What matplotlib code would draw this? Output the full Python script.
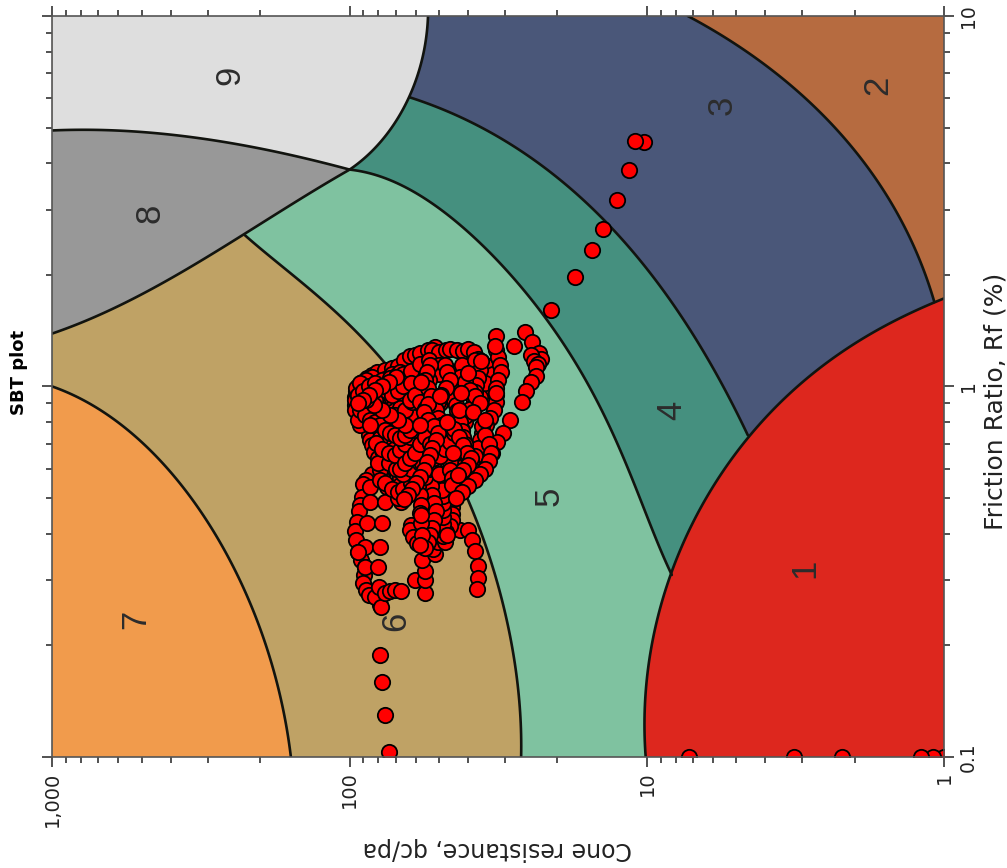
import numpy as np
import matplotlib
matplotlib.use("Agg")
import matplotlib.pyplot as plt
from matplotlib.ticker import FixedLocator, FixedFormatter, NullFormatter

# ---- zone boundaries (qc, Rf) ----
b76_qc = [1000, 691, 469, 319, 234, 185, 169, 157.6]
b76_rf = [1.0, .864, .674, .464, .30, .182, .142, .1]
b86_qc = [1000, 691, 469, 319, 225, 159, 100]
b86_rf = [1.39, 1.61, 1.82, 2.12, 2.56, 3.18, 3.85]
b98_qc = [1000, 480, 247, 147, 100]
b98_rf = [4.91, 4.85, 4.53, 4.16, 3.85]
b934_qc = [100, 75, 62.7, 57.1, 54.5]
b934_rf = [3.85, 4.82, 6.03, 7.75, 10]
b56_qc = [225, 147, 100, 71.5, 53.8, 40.3, 34.5, 29.6, 27.4, 26.5]
b56_rf = [2.56, 1.935, 1.436, 1.127, .763, .502, .368, .234, .161, .1]
b45_qc = [100, 67.9, 46.1, 31.3, 26.8, 21.2, 18.2, 14.4, 12.3, 9.05, 8.25]
b45_rf = [3.85, 3.49, 2.90, 2.19, 1.82, 1.51, 1.199, .90, .673, .362, .31]
b34_qc = [62.7, 36.5, 26.8, 19.2, 14.08, 9.78, 7.34, 5.69, 4.58]
b34_rf = [6.03, 4.98, 4.39, 3.56, 2.84, 2.03, 1.445, 1.059, .739]
b1_qc = [10.1, 9.94, 9.4, 8.25, 6.64, 4.58, 3.06, 1.93, 1.08, 1.0]
b1_rf = [.1, .161, .234, .31, .464, .731, 1.01, 1.33, 1.69, 1.73]
b2_qc = [7.29, 4.51, 3.06, 2.37, 1.78, 1.41, 1.18, 1.08]
b2_rf = [10, 7.83, 6.19, 5.13, 3.83, 2.81, 2.10, 1.69]

zone_labels = ["1", "2", "3", "4", "5", "6", "7", "8", "9"]
zone_label_qc = [2.94, 1.68, 5.6, 8.26, 21.3, 70.2, 525, 470, 252]
zone_label_rf = [.323, 6.48, 5.75, .86, .505, .232, .235, 2.94, 6.9]

# ---- CPT soundings (qc, Rf) ----
surface_qc = [1.0, 1.09, 1.2, 2.2, 3.2, 7.2]
surface_rf = [.1, .1, .1, .1, .1, .1]
trail_qc = [74, 76.3, 77.7, 79, 79]
trail_rf = [.103, .13, .159, .189, .257]
upper_qc = [10.2, 10.98, 11.5, 12.6, 14.1, 15.3, 17.5, 21.0]
upper_rf = [4.56, 4.59, 3.84, 3.18, 2.66, 2.33, 1.98, 1.61]
arc_qc = [25.8, 27.9, 24.4, 23, 22.7, 24.5, 24.0, 23.2, 23.7, 23.7, 24.6, 25.6, 26.4, 28.8, 30.5, 31.9, 33.3, 34.7, 38, 42.3]
arc_rf = [1.40, 1.287, 1.32, 1.23, 1.19, 1.22, 1.17, 1.15, 1.13, 1.07, 1.03, .97, .91, .81, .75, .71, .66, .63, .565, .55]
left_qc = [85.6, 86.3, 86.3, 86.3, 85.6, 84.3, 83, 80.5, 79.3, 80.5, 84.3, 88.3, 90, 91, 92.5, 93.2, 94.7, 96.2, 95.4, 93.9, 91.8, 89, 89.7, 90.3, 88.3, 86.3, 82.4, 78.6]
left_rf = [.812, .787, .763, .74, .717, .695, .667, .64, .62, .595, .58, .559, .545, .503, .479, .461, .431, .407, .385, .358, .34, .326, .31, .295, .282, .273, .271, .254]
col2_qc = [85.6, 85.6, 87.6, 89, 93.9, 89, 75, 76.3, 77.8, 79, 80.5, 79.7, 76.3, 73.4, 70.6, 67.4]
col2_rf = [.535, .488, .428, .368, .358, .326, .535, .488, .428, .368, .326, .288, .277, .28, .282, .28]
low_qc = [60.5, 56, 56, 56, 57, 51.8, 62, 62.8, 61.3, 59.3, 56, 52.6, 50.5]
low_rf = [.30, .277, .30, .318, .34, .354, .423, .41, .392, .378, .37, .365, .38]
tail_qc = [42.7, 40, 38.9, 38, 37.1, 37.1, 37.4]
tail_rf = [.41, .41, .385, .36, .328, .305, .284]
l1_qc = [96, 96.2, 95.4, 94, 91, 87.6, 84.3, 80.8, 76.3, 72.3, 69, 65.5, 62.8, 60.5, 58.2, 54.7, 51.8]
l1_rf = [.891, .935, .97, 1.0, 1.03, 1.055, 1.074, 1.095, 1.108, 1.12, 1.135, 1.18, 1.205, 1.216, 1.23, 1.255, 1.28]
l2_qc = [96, 91.7, 85.6, 80.8, 75.5, 72.3, 76.3, 80.8, 85.6, 89.7, 94, 88.3, 83.7, 78, 73.4, 69.5, 72.3, 76.3, 80.8, 84.3, 88.3, 92.5, 93.9, 89, 82.4]
l2_rf = [.864, .838, .853, .891, .929, .966, .99, .966, .93, .907, .94, .978, 1.01, 1.041, 1.055, 1.074, 1.01, .948, .907, .864, .82, .787, .812, .853, .919]
l3_qc = [67.9, 65.3, 63.8, 65.3, 67.9, 70.6, 73.4, 76.3, 79.3, 81.7, 77.7, 74, 70.6, 67.9, 65.3, 62.8, 60.5, 58.2, 60.5, 62.8, 65.3, 61.8, 59, 56.4, 57.7]
l3_rf = [1.095, 1.041, .978, .919, .875, .838, .797, .763, .727, .704, .678, .66, .653, .674, .7, .73, .763, .787, .812, .838, .864, .907, .948, .99, 1.03]
l4_qc = [92.5, 89, 85.6, 82.4, 79.3, 76.3, 73.4, 70.6, 67.9, 65.3, 62.8, 65.3, 69, 73.4, 78, 83, 88.3, 93]
l4_rf = [.864, .838, .812, .8, .787, .763, .75, .74, .725, .74, .763, .787, .812, .838, .864, .891, .919, .948]
l5_qc = [94, 90, 86, 82, 78, 75, 72, 69, 66, 63, 66, 70, 74, 78, 82, 86, 90, 94]
l5_rf = [.95, .97, 1.0, 1.02, 1.0, .97, .95, .97, 1.0, 1.06, 1.08, 1.06, 1.03, 1.0, .98, .95, .92, .90]
n1_qc = [95, 91, 87, 83, 79, 75, 71, 67, 64, 61, 64, 68, 72, 76, 80, 84, 88, 92, 96]
n1_rf = [.99, 1.0, .96, .93, .91, .89, .87, .90, .93, .97, 1.0, 1.04, 1.08, 1.05, 1.03, 1.06, 1.04, 1.02, .92]
n2_qc = [80, 76, 72, 68, 64, 60, 57, 54, 51, 48, 51, 54, 57, 60, 64, 68, 72, 76]
n2_rf = [.84, .81, .78, .80, .83, .86, .83, .79, .76, .73, .70, .68, .70, .72, .70, .68, .70, .73]
n3_qc = [62, 58, 54, 50, 46, 42, 38, 35, 33, 35, 38, 42, 46, 50, 54, 58, 62]
n3_rf = [1.10, 1.15, 1.18, 1.14, 1.10, 1.14, 1.18, 1.14, 1.08, 1.02, 1.00, .98, 1.04, 1.08, 1.04, 1.00, 1.02]
n4_qc = [74, 70, 66, 62, 58, 54, 50, 46, 43, 47, 52, 57, 62, 67, 72]
n4_rf = [.62, .60, .58, .60, .62, .60, .58, .60, .63, .66, .64, .62, .66, .69, .66]
m1_qc = [52.9, 50.2, 47.5, 46.1, 43.7, 41.7, 40, 38.3, 37.1, 36.2, 34.5, 33.5, 34.2, 35.5, 36.5, 38, 38.9]
m1_rf = [1.255, 1.24, 1.255, 1.265, 1.255, 1.248, 1.265, 1.24, 1.19, 1.17, 1.108, 1.055, 1.0, .978, .935, .885, .853]
m2_qc = [36.5, 37.1, 37.7, 38, 38.3, 38.9, 40, 41, 42, 42.7, 43.7, 45, 46.1, 46.1, 45.4, 45.4]
m2_rf = [1.108, 1.055, 1.01, .966, .919, .875, .838, .8, .763, .717, .683, .653, .626, .595, .565, .542]
m3_qc = [32.1, 31.8, 31.3, 31, 31.6, 32.1, 32.1, 32.3, 32.8, 33.8, 34.9, 35.8, 36.5, 37.1, 38, 38.9, 39.5]
m3_rf = [1.255, 1.2, 1.143, 1.095, 1.041, .99, .948, .908, .864, .824, .787, .75, .717, .683, .649, .618, .595]
m4_qc = [47.9, 46.9, 46.1, 47.5, 49.4, 50.6, 51.4, 50.6, 49.4, 46.9, 44.6, 43, 41.7, 40.2, 39, 40, 41.7, 43.3]
m4_rf = [1.143, 1.095, 1.041, .99, .948, .908, .864, .824, .787, .8, .77, .73, .695, .66, .64, .614, .595, .577]
m5_qc = [53.8, 55.1, 56, 54.7, 53.4, 54.7, 56.4, 54.7, 52.2, 50.6, 51.4, 52.9, 53.8, 55.1, 56.4, 58.2, 60, 61.8, 63.8, 65.8]
m5_rf = [1.143, 1.095, 1.041, .99, .941, .897, .853, .812, .782, .75, .717, .683, .653, .624, .595, .57, .55, .53, .51, .497]
m6_qc = [67.9, 65.3, 62.8, 60.5, 58.2, 56, 53.8, 51.8, 49.8, 47.9, 46.1, 44.4, 42.7, 41, 39.5]
m6_rf = [.60, .62, .64, .66, .70, .73, .70, .67, .65, .68, .71, .75, .79, .83, .87]
m7_qc = [62.8, 60.5, 58.2, 56, 53.8, 51.8, 49.8, 47.9, 46.1, 44.4, 42.7, 41, 39.5, 38, 36.5]
m7_rf = [.92, .95, .91, .87, .84, .87, .90, .94, .98, 1.02, 1.06, 1.03, .98, .94, .90]
m8_qc = [44.4, 44, 43.5, 43, 42.5, 42, 41.5, 41, 40.5, 40, 39.5]
m8_rf = [.92, .89, .86, .83, .80, .76, .73, .70, .67, .64, .61]
m9_qc = [36, 35, 34, 33.5, 34, 35, 36.5, 38, 40, 42, 44]
m9_rf = [.78, .74, .70, .66, .63, .60, .58, .56, .54, .52, .50]
m10_qc = [79, 76, 72, 69, 66, 62, 60, 58, 56]
m10_rf = [.56, .55, .53, .52, .53, .55, .58, .60, .57]
c400_qc = [72.3, 70.6, 69, 67.9, 66.9, 66.9, 67.9, 67.9, 67.9, 67.4, 69]
c400_rf = [.763, .725, .688, .657, .626, .595, .565, .542, .515, .488, .5]
c385_qc = [79.3, 77.7, 76.3, 76.3, 77, 78, 79.3, 80.5]
c385_rf = [.704, .674, .645, .61, .585, .565, .595, .62]
c418_qc = [62.8, 61, 59, 58.2, 58.2, 58.7, 58.2, 57.7, 58.2, 57.7, 57, 58.2]
c418_rf = [.674, .645, .62, .595, .565, .54, .51, .479, .455, .428, .397, .373]
c433_qc = [51.8, 53, 53.4, 53, 52.2, 51.4, 52.2, 53, 53.8, 54.7, 56]
c433_rf = [.595, .565, .54, .51, .485, .46, .436, .415, .397, .38, .366]
c452_qc = [45.4, 45.4, 45.4, 45.4, 45.4, 45.4, 45.4, 46.1, 47.3, 47.3, 47.9, 48.6, 48.6, 48.6, 48.6, 48.6, 48.6, 48.6, 49]
c452_rf = [.559, .535, .512, .494, .473, .453, .436, .42, .405, .393, .381, .396, .41, .425, .445, .464, .485, .505, .525]
top_qc = [36.2, 40, 42.3, 32.1, 43, 38.6, 35, 58.2, 46.9, 45, 49.8, 57.7, 85.6, 57.7, 46.9]
top_rf = [1.17, 1.09, .958, .958, .864, .853, .812, .787, .8, .66, .944, 1.03, .787, .45, .397]
peak_qc = [32.1, 32.5]
peak_rf = [1.37, 1.29]

chains = [(surface_qc, surface_rf), (trail_qc, trail_rf), (upper_qc, upper_rf), (arc_qc, arc_rf),
          (left_qc, left_rf), (col2_qc, col2_rf), (low_qc, low_rf), (tail_qc, tail_rf),
          (c452_qc, c452_rf), (c433_qc, c433_rf), (c418_qc, c418_rf), (c385_qc, c385_rf),
          (c400_qc, c400_rf), (m10_qc, m10_rf), (n4_qc, n4_rf), (l1_qc, l1_rf), (n1_qc, n1_rf),
          (l2_qc, l2_rf), (n2_qc, n2_rf), (l3_qc, l3_rf), (l4_qc, l4_rf), (l5_qc, l5_rf),
          (m1_qc, m1_rf), (n3_qc, n3_rf), (m2_qc, m2_rf), (m3_qc, m3_rf), (m6_qc, m6_rf),
          (m7_qc, m7_rf), (m8_qc, m8_rf), (m9_qc, m9_rf), (m4_qc, m4_rf), (m5_qc, m5_rf),
          (peak_qc, peak_rf), (top_qc, top_rf)]

zone_colors = {1: "#DD271E", 2: "#B66B40", 3: "#4A5779", 4: "#45907F", 5: "#7FC2A0",
               6: "#BFA265", 7: "#F19B4C", 8: "#989898", 9: "#DEDEDE"}


def smooth(qc, rf, deg=4, n=120):
    """Fair curve through a traced boundary, in log space; the ends stay on their junctions."""
    x, y = np.log10(qc), np.log10(rf)
    t = np.r_[0, np.cumsum(np.hypot(np.diff(x), np.diff(y)))]
    t = t / t[-1]
    w = np.ones_like(t)
    w[[0, -1]] = 30
    tt = np.linspace(0, 1, n)
    return (10 ** np.polyval(np.polyfit(t, x, deg, w=w), tt),
            10 ** np.polyval(np.polyfit(t, y, deg, w=w), tt))


W, H = 1007, 868
fig = plt.figure(figsize=(W / 100, H / 100), dpi=100, facecolor="white")
ax = fig.add_axes([52.3 / W, (H - 757) / H, 892 / W, 741 / H])
ax.set_xscale("log")
ax.set_yscale("log")
ax.set_xlim(1000, 1)
ax.set_ylim(0.1, 10)
ax.set_facecolor(zone_colors[2])

QMAX, QMIN, RMIN, RMAX = 1000, 1, .1, 10
s2 = smooth(b2_qc, b2_rf, 3)
s34 = smooth(b34_qc, b34_rf, 4)
s45 = smooth(b45_qc, b45_rf, 5)
s56 = smooth(b56_qc, b56_rf, 5)
s76 = smooth(b76_qc, b76_rf, 4)
s86 = smooth(b86_qc, b86_rf, 3)
s98 = smooth(b98_qc, b98_rf, 3)
s934 = smooth(b934_qc, b934_rf, 3)
s1 = smooth(b1_qc, b1_rf, 5)


def fill(qc, rf, extra_qc, extra_rf, z):
    ax.fill(np.r_[qc, extra_qc], np.r_[rf, extra_rf], color=zone_colors[z], lw=0, zorder=1)


fill(*s2, [b2_qc[-1], QMAX, QMAX], [RMIN, RMIN, RMAX], 3)
fill(*s34, [b34_qc[-1], QMAX, QMAX, b34_qc[0]], [RMIN, RMIN, RMAX, RMAX], 4)
fill(*s45, [b45_qc[-1], QMAX, QMAX, b45_qc[0]], [RMIN, RMIN, RMAX, RMAX], 5)
fill(*s56, [QMAX, QMAX, b56_qc[0]], [RMIN, RMAX, RMAX], 6)
fill(*s76, [QMAX], [RMIN], 7)
fill(np.r_[s86[0], s98[0][::-1]], np.r_[s86[1], s98[1][::-1]], [], [], 8)
fill(np.r_[s98[0], s934[0]], np.r_[s98[1], s934[1]], [QMAX], [RMAX], 9)
fill(*s1, [QMIN], [RMIN], 1)

for s in (s2, s34, s45, s56, s76, s86, s98, s934, s1):
    ax.plot(s[0], s[1], color="#12140f", lw=1.9, zorder=2, solid_capstyle="round")

for t, q, r in zip(zone_labels, zone_label_qc, zone_label_rf):
    ax.text(q, r, t, rotation=90, rotation_mode="anchor", ha="center", va="center", fontsize=25,
            color="#2c2c2c", zorder=3, family="Liberation Sans")

qc_all = np.concatenate([c[0] for c in chains])
rf_all = np.concatenate([c[1] for c in chains])
ax.scatter(qc_all, rf_all, s=122, c="#FF0000", edgecolors="black", linewidths=1.3, zorder=4, clip_on=True)

# axis furniture
for sp in ax.spines.values():
    sp.set_color("#555555")
    sp.set_linewidth(1.2)
    sp.set_zorder(5)

x_major = [1000, 100, 10, 1]
x_labels = ["1,000", "100", "10", "1"]
y_major = [0.1, 1, 10]
y_labels = ["0.1", "1", "10"]
ax.xaxis.set_major_locator(FixedLocator(x_major))
ax.xaxis.set_major_formatter(FixedFormatter(x_labels))
ax.xaxis.set_minor_locator(FixedLocator([m * d for d in (1, 10, 100) for m in range(2, 10)]))
ax.xaxis.set_minor_formatter(NullFormatter())
ax.yaxis.set_major_locator(FixedLocator(y_major))
ax.yaxis.set_major_formatter(FixedFormatter(y_labels))
ax.yaxis.set_minor_locator(FixedLocator([m * d for d in (.1, 1) for m in range(2, 10)]))
ax.yaxis.set_minor_formatter(NullFormatter())
ax.tick_params(which="major", length=7.5, width=1.1, color="#222222", top=True, bottom=True, left=True, right=True)
ax.tick_params(which="minor", length=4.5, width=1.1, color="#222222", top=True, bottom=True, left=True, right=True)
ax.tick_params(axis="x", which="major", labelsize=14, labelrotation=90, pad=3, labelcolor="#222222")
ax.tick_params(axis="y", which="major", labelsize=13.5, labelrotation=90, pad=3, labelleft=False,
               labelright=True, labelcolor="#222222")
for lab in ax.get_yticklabels():
    lab.set_va("center")

fig.text(497 / W, 1 - 849 / H, "Cone resistance, qc/pa", rotation=180, ha="center", va="center",
         fontsize=17, color="#222222")
fig.text(995 / W, 1 - 401 / H, "Friction Ratio, Rf (%)", rotation=90, ha="center", va="center",
         fontsize=18, color="#222222")
fig.text(19 / W, 1 - 372 / H, "SBT plot", rotation=90, ha="center", va="center",
         fontsize=13, fontweight="bold", color="black")

fig.savefig("out.png", dpi=100)
